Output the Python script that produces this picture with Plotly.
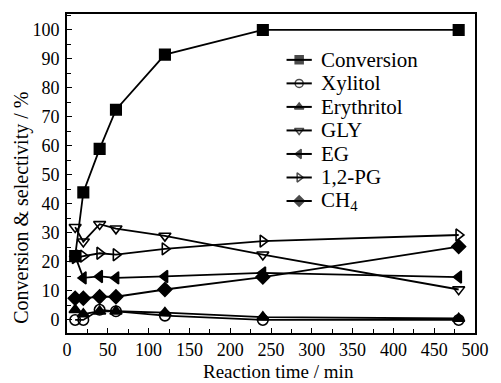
import plotly.graph_objects as go

# Reaction time (min)
time_min = [10, 20, 40, 60, 120, 240, 480]

# Conversion and product selectivities (%)
conversion = [22, 44, 59, 72.5, 91.5, 100, 100]
xylitol = [0, 0, 3.5, 3, 1.5, 0, 0]
erythritol = [3.5, 2, 3, 3, 2.5, 1, 0.5]
gly = [32, 27, 33, 31.5, 29, 22.5, 10.5]
eg = [22, 14.5, 15, 14.5, 15, 16.2, 14.8]
pg12 = [21.5, 22, 23, 22.5, 24.5, 27.2, 29.3]
ch4 = [7.5, 7.5, 8, 8, 10.5, 14.8, 25.3]

series_names = ["Conversion", "Xylitol", "Erythritol", "GLY", "EG", "1,2-PG", "CH<sub>4</sub>"]
series_values = [conversion, xylitol, erythritol, gly, eg, pg12, ch4]
series_symbols = ["square", "circle-open", "triangle-up", "triangle-down-open",
                  "triangle-left", "triangle-right-open", "diamond"]

x_ticks = [0, 50, 100, 150, 200, 250, 300, 350, 400, 450, 500]
y_ticks = [0, 10, 20, 30, 40, 50, 60, 70, 80, 90, 100]

FONT = "Liberation Serif"
INK = "black"

# plot-area geometry (pixels) used to place the hand-drawn legend and titles
W, H = 501, 383
ML, MR, MT, MB = 67, 14, 13, 50
PW, PH = W - ML - MR, H - MT - MB


def fx(px):
    return (px - ML) / PW


def fy(py):
    return (H - MB - py) / PH


fig = go.Figure()
for name, vals, sym in zip(series_names, series_values, series_symbols):
    fig.add_trace(go.Scatter(
        x=time_min, y=vals, name=name, mode="lines+markers", showlegend=False,
        line=dict(color=INK, width=1.8),
        marker=dict(symbol=sym, size=10.5, color=INK, line=dict(color=INK, width=1.6)),
    ))

# legend: short key line with a small marker, followed by the label
annotations = []
row0, row_gap = 59, 23.6
for i, (name, sym) in enumerate(zip(series_names, series_symbols)):
    yy = fy(row0 + i * row_gap)
    fig.add_trace(go.Scatter(
        x=[fx(293), fx(306), fx(319)], y=[yy, yy, yy], xaxis="x2", yaxis="y2",
        mode="lines+markers", showlegend=False, hoverinfo="skip",
        line=dict(color=INK, width=2),
        marker=dict(symbol=sym, size=[0, 8, 0], color=INK,
                    line=dict(color=INK, width=[0, 1.5, 0])),
    ))
    annotations.append(dict(
        x=fx(326), y=yy, xref="paper", yref="paper", text=name, showarrow=False,
        xanchor="left", yanchor="middle", font=dict(family=FONT, size=21, color=INK),
    ))

annotations.append(dict(
    x=fx(20), y=fy(207), xref="paper", yref="paper", text="Conversion &amp; selectivity / %",
    textangle=-90, showarrow=False, xanchor="center", yanchor="middle",
    font=dict(family=FONT, size=20, color=INK),
))
annotations.append(dict(
    x=fx(285), y=fy(372), xref="paper", yref="paper", text="Reaction time / min",
    showarrow=False, xanchor="center", yanchor="middle",
    font=dict(family=FONT, size=19, color=INK),
))

axis_common = dict(
    showline=True, linecolor=INK, linewidth=1.6, mirror=True,
    ticks="inside", ticklen=5, tickwidth=1.2, tickcolor=INK,
    showgrid=False, zeroline=False, ticklabeloverflow="allow",
    tickfont=dict(family=FONT, size=18, color=INK),
)

fig.update_layout(
    width=W, height=H,
    margin=dict(l=ML, r=MR, t=MT, b=MB),
    paper_bgcolor="white", plot_bgcolor="white",
    font=dict(family=FONT, color=INK),
    showlegend=False,
    annotations=annotations,
    xaxis=dict(range=[0, 500], tickvals=x_ticks, ticklabelstandoff=0,
               minor=dict(ticks="inside", ticklen=4, dtick=25, tickcolor=INK, tickwidth=1),
               **axis_common),
    yaxis=dict(range=[-4.5, 105.5], tickvals=y_ticks, ticklabelstandoff=2,
               minor=dict(ticks="inside", ticklen=4, dtick=5, tickcolor=INK, tickwidth=1),
               **axis_common),
    xaxis2=dict(overlaying="x", range=[0, 1], visible=False, fixedrange=True),
    yaxis2=dict(overlaying="y", range=[0, 1], visible=False, fixedrange=True),
)

fig.write_html("out.html")
